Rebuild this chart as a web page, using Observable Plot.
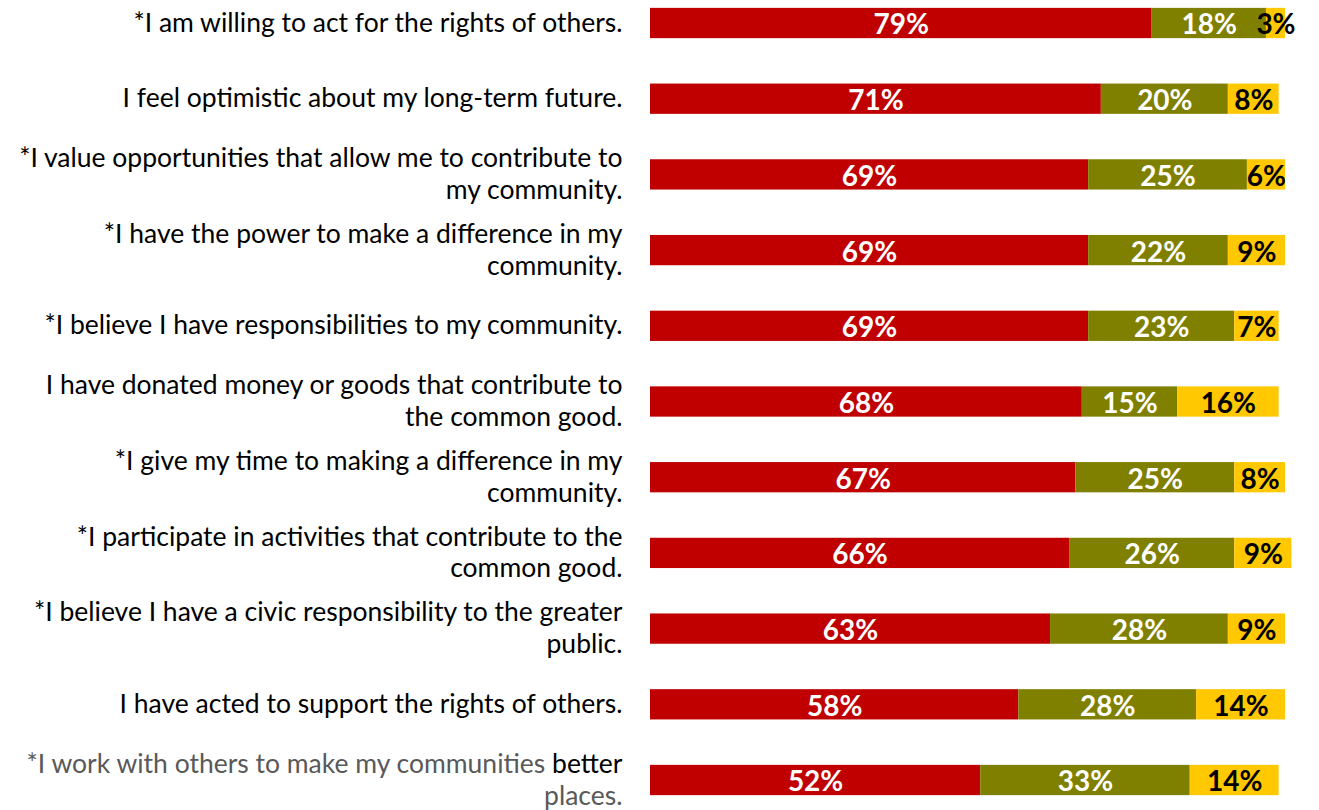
<!DOCTYPE html>
<html>
<head>
<meta charset="utf-8">
<script src="https://cdn.jsdelivr.net/npm/d3@7"></script>
<script src="https://cdn.jsdelivr.net/npm/@observablehq/plot@0.6"></script>
<style>
  html, body { margin: 0; padding: 0; background: #fff; }
  #chart svg { display: block; }
</style>
</head>
<body>
<div id="chart"></div>
<script>
const statements = [
  "*I am willing to act for the rights of others.",
  "I feel optimistic about my long-term future.",
  "*I value opportunities that allow me to contribute to\nmy community.",
  "*I have the power to make a difference in my\ncommunity.",
  "*I believe I have responsibilities to my community.",
  "I have donated money or goods that contribute to\nthe common good.",
  "*I give my time to making a difference in my\ncommunity.",
  "*I participate in activities that contribute to the\ncommon good.",
  "*I believe I have a civic responsibility to the greater\npublic.",
  "I have acted to support the rights of others.",
  "*I work with others to make my communities better\nplaces."
];
const seriesNames = ["Agree", "Neutral", "Disagree"];
const agree    = [79, 71, 69, 69, 69, 68, 67, 66, 63, 58, 52];
const neutral  = [18, 20, 25, 22, 23, 15, 25, 26, 28, 28, 33];
const disagree = [3, 8, 6, 9, 7, 16, 8, 9, 9, 14, 14];
const seriesColors = ["#C00000", "#808000", "#FFC800"];
const labelColors = ["#ffffff", "#ffffff", "#000000"];

const seriesValues = [agree, neutral, disagree];
const table = [];
statements.forEach((s, i) => {
  seriesNames.forEach((k, j) => {
    table.push({statement: s, series: k, value: seriesValues[j][i], order: j});
  });
});

const font = "Lato, 'Open Sans', sans-serif";

const chart = Plot.plot({
  width: 1319,
  height: 810,
  marginLeft: 650,
  marginRight: 34,
  marginTop: 0,
  marginBottom: 0,
  style: {fontFamily: font, background: "#fff"},
  x: {domain: [0, 100], axis: null},
  y: {domain: statements, range: [-14.85, 817.85], paddingInner: 0.6, paddingOuter: 0.3, round: false, axis: null},
  color: {domain: seriesNames, range: seriesColors},
  marks: [
    Plot.barX(table, Plot.stackX({x: "value", y: "statement", fill: "series", order: seriesNames})),
    Plot.text(table, Plot.stackX({
      x: "value", y: "statement", order: seriesNames,
      text: d => d.value + "%",
      fill: d => labelColors[d.order],
      dy: 2,
      fontSize: 28, fontWeight: "bold", fontFamily: font
    })),
    Plot.text(statements, {
      x: 0, y: d => d, text: d => d, dx: -28, dy: -2, textAnchor: "end",
      fontSize: 26.5, fill: "#000", lineHeight: 1.2, fontFamily: font
    })
  ]
});

document.getElementById("chart").appendChild(chart);

// Recolor the last statement: grey text with "better" in black
d3.select(chart).selectAll("text").each(function() {
  const t = d3.select(this);
  const first = t.select("tspan");
  if (!first.empty() && first.text().startsWith("*I work with others")) {
    t.attr("fill", "#595959");
    const line = first.text();
    first.text(null);
    first.append("tspan").text(line.replace("better", ""));
    first.append("tspan").attr("fill", "#000").text("better");
  }
});
</script>
</body>
</html>
